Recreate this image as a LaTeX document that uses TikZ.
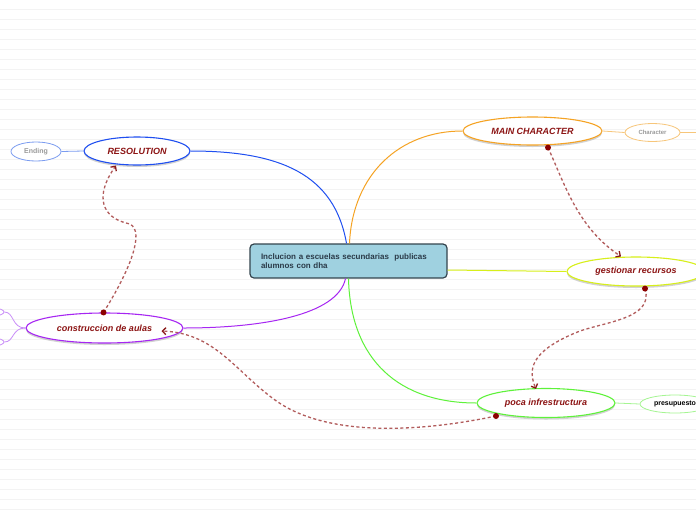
\documentclass[tikz,border=0pt]{standalone}
\usepackage{fontspec}
\setmainfont{Liberation Sans}
\usetikzlibrary{shapes.geometric,arrows.meta,shadows,calc}
\definecolor{resblue}{HTML}{1F4FF0}
\definecolor{endblue}{HTML}{7B9CF0}
\definecolor{consp}{HTML}{A626F2}
\definecolor{consl}{HTML}{C98EF8}
\definecolor{orng}{HTML}{F5A324}
\definecolor{orngl}{HTML}{F7C67A}
\definecolor{ylw}{HTML}{D7EF1A}
\definecolor{grn}{HTML}{5EF23A}
\definecolor{grnl}{HTML}{A5F592}
\definecolor{txtred}{HTML}{8C1414}
\definecolor{ctrfill}{HTML}{9FD1E0}
\definecolor{ctrborder}{HTML}{34444E}
\definecolor{ctrtext}{HTML}{2A3A48}
\definecolor{relc}{HTML}{B25C5C}
\definecolor{arrc}{HTML}{8B1A1A}
\definecolor{dotc}{HTML}{8B0000}
\definecolor{gridc}{HTML}{F3F3F3}
\definecolor{subtext}{HTML}{9A9A9A}
\begin{document}
\begin{tikzpicture}[x=1pt,y=-1pt,
  mind/.style={ellipse, draw, fill=white, line width=1.1pt, inner sep=0pt,
    font=\fontsize{9}{10}\selectfont\bfseries\itshape, text=txtred,
    drop shadow={shadow xshift=0pt, shadow yshift=-2pt, opacity=0.35}},
  sub/.style={ellipse, draw, fill=white, line width=0.8pt, inner sep=0pt,
    font=\fontsize{7}{8}\selectfont\bfseries, text=subtext},
  branch/.style={line width=1pt},
  sublink/.style={line width=0.8pt},
  rel/.style={draw=relc, line width=1.3pt, dash pattern=on 3pt off 2.5pt,
    -{Straight Barb[length=3.5pt,width=7pt,line width=1.3pt,color=arrc]}},
  gridline/.style={draw=gridc, line width=0.6pt}
]
\useasboundingbox (0,0) rectangle (696,520);
\fill[white] (0,0) rectangle (696,520);
\foreach \k in {1,...,51} \draw[gridline] (0,\k*10-0.5) -- (696,\k*10-0.5);

% central topic
\node[draw=ctrborder, fill=ctrfill, rounded corners=4pt, line width=1.2pt,
  minimum width=197pt, minimum height=34pt, text width=175pt, align=left,
  inner xsep=11pt, font=\fontsize{8}{9}\selectfont\bfseries, text=ctrtext]
  (center) at (348.5,261) {Inclucion a escuelas secundarias~ publicas\\alumnos con dha};

% main topics
\node[mind, draw=resblue, minimum width=106pt, minimum height=28pt] (res) at (137,151) {RESOLUTION};
\node[mind, draw=consp, minimum width=157pt, minimum height=30pt] (cons) at (104.5,328) {construccion de aulas};
\node[mind, draw=orng, minimum width=139pt, minimum height=28pt] (main) at (532.5,131) {MAIN CHARACTER};
\node[mind, draw=ylw, minimum width=138pt, minimum height=29pt] (gest) at (636,271.5) {gestionar recursos};
\node[mind, draw=grn, minimum width=138pt, minimum height=29pt] (poca) at (546,403) {poca infrestructura};

% subtopics
\node[sub, draw=endblue, minimum width=50pt, minimum height=19pt] (ending) at (36,151.5) {Ending};
\node[sub, draw=consl, minimum width=68pt, minimum height=13pt] (c1) at (-30,312) {};
\node[sub, draw=consl, minimum width=68pt, minimum height=13pt] (c2) at (-30,342) {};
\node[sub, draw=orngl, minimum width=55pt, minimum height=18pt,
  font=\fontsize{6}{7}\selectfont\bfseries, text=subtext] (char) at (652.5,132.5) {Character};
\node[sub, draw=grnl, minimum width=70pt, minimum height=18pt, text=black] (pres) at (675,404) {presupuesto};
\coordinate (rt) at (700,132.5);

% branches
\draw[branch, resblue] ([xshift=-2pt]center.north) .. controls +(-12,-69) and +(90,0) .. (res.east);
\draw[branch, orng] ([xshift=1pt]center.north) .. controls +(3,-69) and +(-63,0) .. (main.west);
\draw[branch, consp] ([xshift=-3pt]center.south) .. controls +(-8,37) and +(77,0) .. (cons.east);
\draw[branch, grn] (center.south) .. controls +(2,82) and +(-77,0) .. (poca.west);
\draw[branch, ylw] ([yshift=-9pt]center.east) -- (gest.west);

\draw[sublink, endblue] (ending.east) -- (res.west);
\draw[sublink, orngl] (main.east) -- (char.west);
\draw[sublink, orngl] (char.east) -- (rt);
\draw[sublink, grnl] (poca.east) -- (pres.west);
\draw[sublink, consl] (cons.west) .. controls +(-14,0) and +(10,0) .. (c1.east);
\draw[sublink, consl] (cons.west) .. controls +(-14,0) and +(10,0) .. (c2.east);

% relationships
\coordinate (d1) at ([xshift=-1pt]cons.north);
\coordinate (a1) at ([xshift=-21pt]res.south);
\coordinate (d2) at ([xshift=15.5pt,yshift=-2pt]main.south);
\coordinate (a2) at ([xshift=-15pt]gest.north);
\coordinate (d3) at ([xshift=9pt,yshift=-2pt]gest.south);
\coordinate (a3) at ([xshift=-10pt,yshift=-1pt]poca.north);
\coordinate (d4) at ($(poca.center)+(-50,13)$);
\coordinate (a4) at ($(cons.center)+(57,3)$);

\draw[rel] (d1) .. controls (130,270) and (145,232) .. (130,224) .. controls (100,218) and (95,195) .. (a1);
\draw[rel] (d2) .. controls (565,185) and (578,228) .. (a2);
\draw[rel] (d3) .. controls (655,320) and (600,322) .. (575,333) .. controls (530,352) and (528,370) .. (a3);
\draw[rel] (d4) .. controls (430,430) and (330,440) .. (275,400) .. controls (235,371) and (215,333) .. (a4);
\foreach \d in {d1,d2,d3,d4} \fill[dotc] (\d) circle (3pt);
\end{tikzpicture}
\end{document}
